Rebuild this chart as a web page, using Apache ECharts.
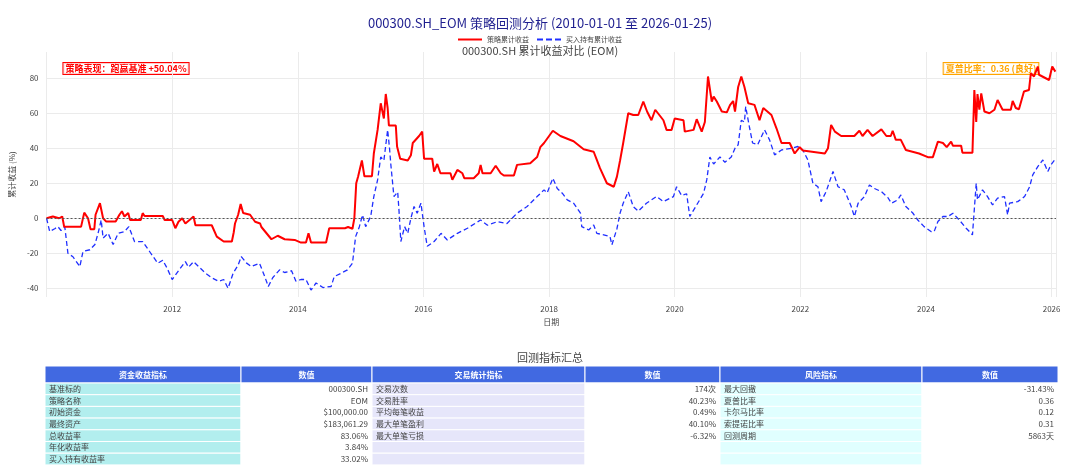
<!DOCTYPE html>
<html><head><meta charset="utf-8">
<script src="https://cdn.jsdelivr.net/npm/echarts@6/dist/echarts.min.js"></script>
<style>html,body{margin:0;padding:0;background:#fff}#c{width:1080px;height:472px}</style>
</head><body><div id="c"></div>
<script>
// Strategy cumulative return: [decimal year, %]
var strategyData = [
[2010.0,0],[2010.1,1],[2010.2,0],[2010.25,1],[2010.28,-4.8],[2010.55,-4.8],[2010.6,3.2],[2010.66,0],[2010.7,-6.3],[2010.76,-6.3],[2010.78,2],[2010.85,8.6],[2010.9,0],[2010.95,-1.9],[2011.1,-1.9],[2011.16,2],[2011.2,4],[2011.24,1],[2011.3,3],[2011.33,-1],[2011.5,-1],[2011.53,2.9],[2011.56,1.3],[2011.85,1.3],[2011.88,-1],[2012.0,-1],[2012.05,-5.7],[2012.1,-2],[2012.16,0],[2012.21,-3],[2012.34,1],[2012.37,-4],[2012.63,-4],[2012.71,-10.5],[2012.82,-13.3],[2012.95,-13.3],[2012.98,-8],[2013.0,-3],[2013.05,2],[2013.09,8.2],[2013.13,3],[2013.24,2],[2013.32,-2],[2013.4,-3],[2013.42,-5],[2013.45,-4],[2013.58,-12],[2013.68,-10],[2013.79,-12],[2013.95,-12.4],[2014.05,-13.9],[2014.13,-13.9],[2014.17,-8.6],[2014.21,-13.9],[2014.45,-13.9],[2014.5,-5.7],[2014.75,-5.7],[2014.8,-5],[2014.87,-6],[2014.9,0],[2014.93,20],[2014.96,23.8],[2015.02,33],[2015.06,24],[2015.18,24],[2015.21,37],[2015.27,50.5],[2015.32,65.7],[2015.37,57],[2015.4,71],[2015.43,63],[2015.45,53],[2015.56,53],[2015.58,41],[2015.63,34],[2015.66,33],[2015.75,33],[2015.8,36],[2015.83,43],[2015.88,45],[2015.93,47],[2015.98,49.5],[2016.01,34],[2016.14,34],[2016.17,26.7],[2016.22,31],[2016.27,25.7],[2016.43,25.7],[2016.46,22],[2016.54,27.6],[2016.62,25.7],[2016.65,22.9],[2016.8,22.9],[2016.88,25.7],[2016.91,30.5],[2016.94,25.7],[2017.07,25.7],[2017.15,30],[2017.23,25.7],[2017.28,24.4],[2017.44,24.4],[2017.49,30.5],[2017.7,31.4],[2017.81,35],[2017.86,40.6],[2017.92,43],[2017.98,46],[2018.06,50],[2018.18,47],[2018.39,44],[2018.55,39.4],[2018.71,38],[2018.76,33.3],[2018.81,28.6],[2018.92,20],[2019.03,18],[2019.08,23.8],[2019.13,33],[2019.18,43],[2019.26,60],[2019.34,59],[2019.42,59],[2019.5,66.7],[2019.56,61],[2019.63,56],[2019.69,62],[2019.82,56],[2019.87,50.5],[2019.95,50.5],[2020.0,57],[2020.14,56],[2020.16,49.5],[2020.3,50.5],[2020.35,56.6],[2020.43,49.5],[2020.48,55],[2020.53,81],[2020.59,66.7],[2020.62,69.5],[2020.67,66.7],[2020.75,61],[2020.83,60.5],[2020.88,64.6],[2020.93,67],[2020.96,61],[2021.01,75],[2021.06,81],[2021.11,75],[2021.17,65.7],[2021.27,64.8],[2021.35,56],[2021.41,63],[2021.54,59],[2021.62,51.4],[2021.7,43],[2021.83,43],[2021.91,37],[2021.99,40.6],[2022.04,38.7],[2022.39,37],[2022.44,40],[2022.49,53.3],[2022.55,49.5],[2022.65,47],[2022.86,47],[2022.94,50],[2022.99,47],[2023.07,50.5],[2023.15,47],[2023.29,50.8],[2023.37,47],[2023.44,47],[2023.47,50],[2023.52,44.8],[2023.6,44.8],[2023.68,39],[2023.89,37],[2024.03,34.9],[2024.11,34.9],[2024.19,43.8],[2024.27,43],[2024.33,40.6],[2024.4,43.8],[2024.43,41.4],[2024.56,41.4],[2024.58,37.5],[2024.74,37.5],[2024.77,73.3],[2024.8,55],[2024.82,71],[2024.85,62],[2024.88,71.4],[2024.93,61],[2025.01,60],[2025.09,62],[2025.14,67.6],[2025.22,62],[2025.35,62],[2025.38,67],[2025.43,63],[2025.48,62.3],[2025.56,72.4],[2025.64,73.3],[2025.67,82.9],[2025.72,81],[2025.78,86.7],[2025.8,82],[2025.96,79],[2026.01,86.7],[2026.06,83.8]
];
// Buy & hold cumulative return: [decimal year, %]
var buyHoldData = [
[2010.0,0],[2010.05,-7.6],[2010.13,-6],[2010.18,-4.8],[2010.23,-7],[2010.29,-4.8],[2010.34,-20],[2010.42,-22],[2010.53,-27.6],[2010.58,-19],[2010.69,-18],[2010.77,-15],[2010.82,-8.6],[2010.87,-1],[2010.9,-11.4],[2010.98,-8.6],[2011.06,-15],[2011.14,-8.6],[2011.24,-7.6],[2011.31,-4.8],[2011.4,-13.3],[2011.53,-13.3],[2011.64,-19],[2011.77,-25.7],[2011.85,-24],[2011.92,-28.6],[2012.0,-35],[2012.11,-29.5],[2012.21,-24.8],[2012.26,-28],[2012.34,-24.8],[2012.42,-27.6],[2012.53,-31.4],[2012.63,-34],[2012.74,-36],[2012.82,-35],[2012.89,-40],[2012.97,-31.4],[2013.05,-26.7],[2013.1,-21.9],[2013.18,-25.5],[2013.26,-27.6],[2013.39,-25.7],[2013.47,-33],[2013.53,-39],[2013.6,-34],[2013.71,-29.5],[2013.79,-31],[2013.9,-30],[2013.97,-36],[2014.05,-35],[2014.13,-35],[2014.21,-41],[2014.29,-37],[2014.4,-39.6],[2014.53,-39],[2014.58,-33.3],[2014.69,-31.4],[2014.79,-29.5],[2014.87,-25.7],[2014.92,-10.5],[2014.98,-4.8],[2015.03,1.9],[2015.08,-4.8],[2015.16,1],[2015.21,12.4],[2015.27,21.9],[2015.32,35],[2015.37,33],[2015.43,50.5],[2015.46,40],[2015.48,31],[2015.53,12.4],[2015.59,15],[2015.61,4.8],[2015.64,-13.3],[2015.7,-4.8],[2015.75,-8.6],[2015.8,0],[2015.85,6.7],[2015.9,2.9],[2015.96,8.6],[2016.01,-4.8],[2016.06,-16],[2016.17,-13.3],[2016.28,-8.6],[2016.38,-12.4],[2016.54,-8.6],[2016.7,-5.7],[2016.91,-1],[2017.02,-4],[2017.18,-1.9],[2017.33,-3],[2017.49,2.9],[2017.65,6.7],[2017.81,12.4],[2017.92,16.2],[2017.97,14.5],[2018.06,22.9],[2018.13,17],[2018.21,14.3],[2018.29,10.5],[2018.39,8.6],[2018.5,2.9],[2018.52,-4.8],[2018.63,-6.7],[2018.71,-3.8],[2018.76,-8.6],[2018.87,-9.5],[2018.97,-10.5],[2019.0,-15.2],[2019.08,-6],[2019.13,2.9],[2019.18,8.6],[2019.26,15.2],[2019.34,6.7],[2019.42,4],[2019.55,8.6],[2019.71,12.4],[2019.82,9.5],[2019.98,12.4],[2020.03,18],[2020.11,13],[2020.19,14],[2020.24,1],[2020.35,7.6],[2020.46,14.3],[2020.51,21.9],[2020.56,35],[2020.62,31],[2020.64,31],[2020.72,35],[2020.8,32],[2020.9,35],[2020.96,40],[2021.01,42],[2021.06,56],[2021.11,55],[2021.13,63.8],[2021.19,52],[2021.24,43],[2021.32,42],[2021.43,50.5],[2021.51,44.8],[2021.59,36.2],[2021.7,39],[2021.86,40],[2021.96,41],[2022.04,39],[2022.12,33.3],[2022.2,20],[2022.28,18],[2022.33,9.5],[2022.41,15.2],[2022.52,26.7],[2022.6,18],[2022.7,16.2],[2022.81,6.7],[2022.86,1],[2022.92,8.6],[2023.02,12.4],[2023.1,19],[2023.18,17],[2023.29,15.2],[2023.39,12],[2023.45,8.6],[2023.55,10.5],[2023.6,13.3],[2023.68,6.7],[2023.79,3],[2023.87,-1],[2023.97,-4.8],[2024.08,-7.6],[2024.13,-7.6],[2024.19,-1.9],[2024.27,1],[2024.35,1],[2024.43,2.9],[2024.53,-1],[2024.64,-5.7],[2024.74,-9.5],[2024.8,20],[2024.82,10.5],[2024.9,16.2],[2024.98,12.4],[2025.06,7.6],[2025.14,11.5],[2025.25,12.4],[2025.3,1.9],[2025.33,8.6],[2025.46,9.5],[2025.57,12.4],[2025.65,18],[2025.7,24.8],[2025.78,29.5],[2025.86,33.3],[2025.94,26.7],[2025.99,30.5],[2026.07,34.3]
];
var legendNames = ['策略累计收益','买入持有累计收益'];
var tableHeaders = ['资金收益指标','数值','交易统计指标','数值','风险指标','数值'];
var col1 = ['基准标的','策略名称','初始资金','最终资产','总收益率','年化收益率','买入持有收益率'];
var col2 = ['000300.SH','EOM','$100,000.00','$183,061.29','83.06%','3.84%','33.02%'];
var col3 = ['交易次数','交易胜率','平均每笔收益','最大单笔盈利','最大单笔亏损','',''];
var col4 = ['174次','40.23%','0.49%','40.10%','-6.32%','',''];
var col5 = ['最大回撤','夏普比率','卡尔马比率','索提诺比率','回测周期','',''];
var col6 = ['-31.43%','0.36','0.12','0.31','5863天','',''];

var cols = [col1,col2,col3,col4,col5,col6];
var colX = [45,241,372,585,720,922,1058];
var colBg = ['#b2eeee','#ffffff','#e6e6fa','#ffffff','#e0ffff','#ffffff'];
var colAlign = ['left','right','left','right','left','right'];
var headTop = 366, headH = 17, rowH = 11.7;
var g = [];
for (var c=0;c<6;c++){
  var x0=colX[c], w=colX[c+1]-colX[c];
  g.push({type:'rect',shape:{x:x0,y:headTop,width:w,height:headH},style:{fill:'#4169e1',stroke:'#fff',lineWidth:1}});
  g.push({type:'text',x:x0+w/2,y:headTop+headH/2,style:{text:tableHeaders[c],fill:'#fff',font:'bold 8px "Noto Sans CJK SC"',align:'center',verticalAlign:'middle'}});
  for (var r=0;r<7;r++){
    var y0=headTop+headH+r*rowH;
    g.push({type:'rect',shape:{x:x0,y:y0,width:w,height:rowH},style:{fill:colBg[c],stroke:'#fff',lineWidth:1}});
    if (cols[c][r]) g.push({type:'text',x:colAlign[c]==='left'?x0+4:x0+w-4,y:y0+rowH/2,style:{text:cols[c][r],fill:'#444',font:'8px "Noto Sans CJK SC"',align:colAlign[c],verticalAlign:'middle'}});
  }
}
g.push({type:'text',x:550,y:358,style:{text:'回测指标汇总',fill:'#444',font:'11px "Noto Sans CJK SC"',align:'center',verticalAlign:'middle'}});
g.push({type:'text',x:126,y:68.5,style:{text:'策略表现：跑赢基准 +50.04%',fill:'#ff0000',font:'bold 9px "Noto Sans CJK SC"',align:'center',verticalAlign:'middle',backgroundColor:'rgba(255,255,255,0.8)',borderColor:'#ff0000',borderWidth:1,padding:[1,2]}});
g.push({type:'text',x:991,y:68.5,style:{text:'夏普比率：0.36 (良好)',fill:'#ffa500',font:'bold 9px "Noto Sans CJK SC"',align:'center',verticalAlign:'middle',backgroundColor:'rgba(255,255,255,0.8)',borderColor:'#ffa500',borderWidth:1,padding:[1,2]}});

var chart = echarts.init(document.getElementById('c'));
chart.setOption({
  animation:false,
  textStyle:{fontFamily:'"Noto Sans CJK SC", sans-serif'},
  title:[
    {text:'000300.SH_EOM 策略回测分析 (2010-01-01 至 2026-01-25)',left:'center',top:12,textStyle:{color:'#1f1f8f',fontSize:13,fontWeight:'normal'}},
    {text:'000300.SH 累计收益对比 (EOM)',left:'center',top:40,textStyle:{color:'#444',fontSize:11,fontWeight:'normal'}}
  ],
  legend:{top:31,left:'center',itemWidth:24,itemHeight:6,itemGap:8,textStyle:{fontSize:7,color:'#444'},
    data:[{name:legendNames[0],icon:'path://M0,0H24V2H0Z'},{name:legendNames[1],icon:'path://M0,0H6V2H0ZM9,0H15V2H9ZM18,0H24V2H18Z'}]},
  grid:{left:46,right:24,top:52,bottom:175},
  xAxis:{type:'value',min:2010,max:2026.07,interval:2,name:'日期',nameLocation:'middle',nameGap:18,
    nameTextStyle:{fontSize:8,color:'#444'},
    axisLine:{show:false},axisTick:{show:false},
    axisLabel:{fontSize:8,color:'#444',showMaxLabel:false,formatter:function(v){return v===2010?'':String(v);}},
    splitLine:{show:true,lineStyle:{color:'#ebebeb'}}},
  yAxis:{type:'value',min:-45,max:95,interval:5,name:'累计收益 (%)',nameLocation:'middle',nameGap:28,
    nameTextStyle:{fontSize:8,color:'#444'},
    axisLine:{show:false},axisTick:{show:false},
    axisLabel:{fontSize:8,color:'#444',formatter:function(v){return v%20===0?String(v):'';}},
    splitLine:{show:true,lineStyle:{color:['rgba(0,0,0,0)','#ebebeb','rgba(0,0,0,0)','rgba(0,0,0,0)']}}},
  series:[
    {name:legendNames[0],type:'line',data:strategyData,showSymbol:false,lineStyle:{color:'#ff0000',width:2},itemStyle:{color:'#ff0000'},z:3,
     markLine:{silent:true,symbol:'none',label:{show:false},lineStyle:{color:'#555',type:[2,2],width:1},data:[{yAxis:0}]}},
    {name:legendNames[1],type:'line',data:buyHoldData,showSymbol:false,lineStyle:{color:'#1f2fff',width:1.3,type:[5,3]},itemStyle:{color:'#1f2fff'},z:2}
  ],
  graphic:g
});
</script></body></html>
